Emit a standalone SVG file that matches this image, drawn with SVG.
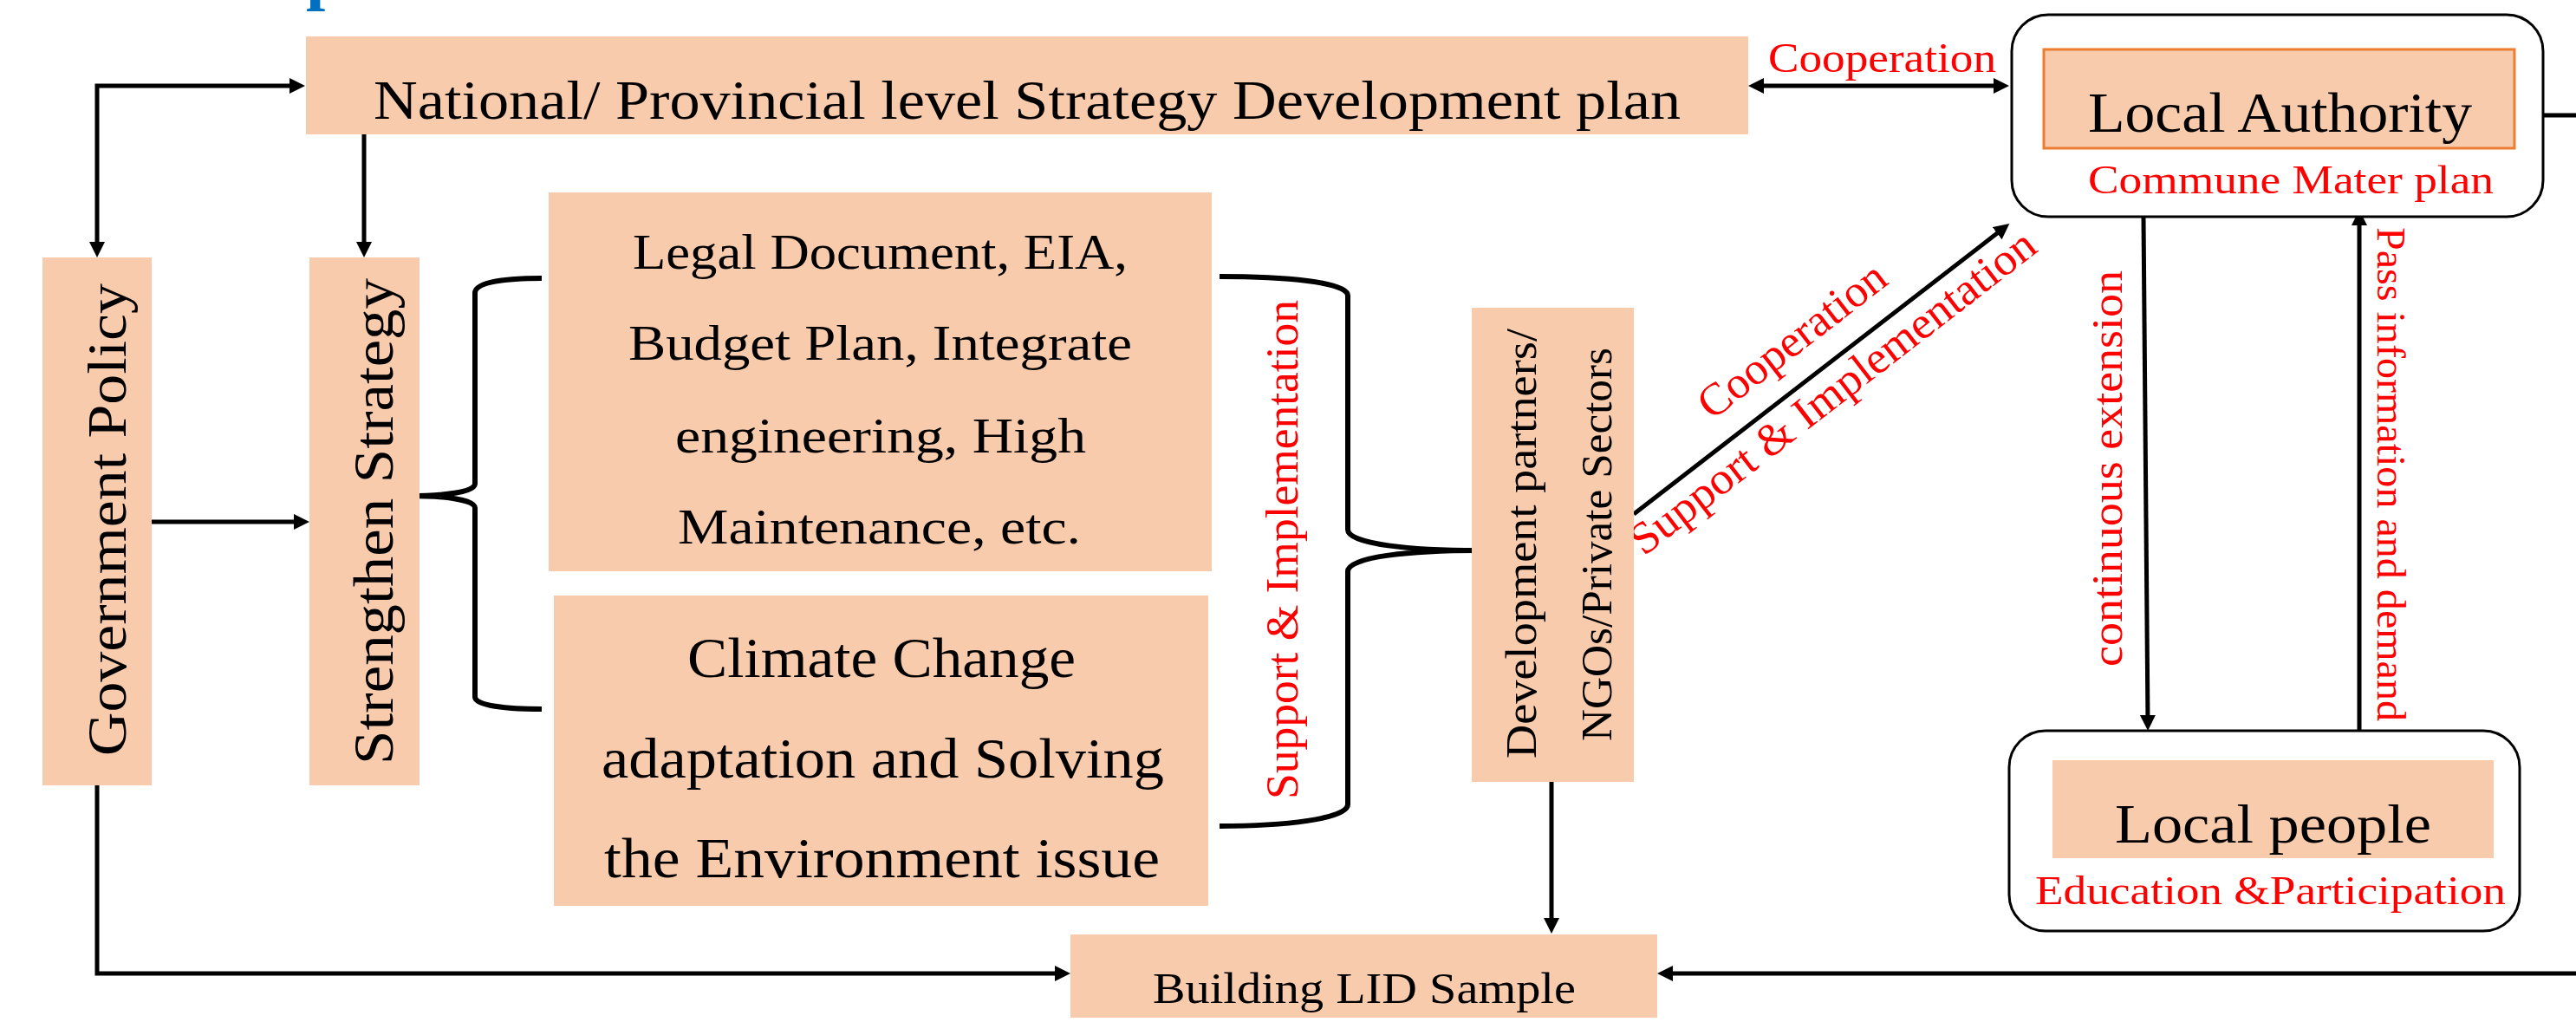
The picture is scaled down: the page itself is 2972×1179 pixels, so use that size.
<svg xmlns="http://www.w3.org/2000/svg" width="2972" height="1179" viewBox="0 0 2972 1179">
<defs>
<style>
.box{fill:#F8CBAD;}
.t{font-family:"Liberation Serif","Times New Roman",serif;fill:#000;}
.r{font-family:"Liberation Serif","Times New Roman",serif;fill:#FF0000;}
.ln{stroke:#000;stroke-width:5;fill:none;}
.br{stroke:#000;stroke-width:6;fill:none;}
.rb{fill:#fff;stroke:#000;stroke-width:3;}
</style>
<marker id="ah" markerUnits="userSpaceOnUse" markerWidth="20" markerHeight="20" refX="10" refY="9" orient="auto-start-reverse">
<path d="M0,0 L18,9 L0,18 z" fill="#000"/>
</marker>
</defs>
<rect width="2972" height="1179" fill="#fff"/>

<text x="353" y="-4" font-family="Liberation Serif,serif" font-weight="bold" font-size="80" fill="#0070C0">p</text>

<g id="connectors">
<path class="ln" d="M112,289 L112,99 L344,99" marker-start="url(#ah)" marker-end="url(#ah)"/>
<path class="ln" d="M420,155 L420,289" marker-end="url(#ah)"/>
<path class="ln" d="M175,602 L349,602" marker-end="url(#ah)"/>
<path class="ln" d="M112,906 L112,1123 L1227,1123" marker-end="url(#ah)"/>
<path class="ln" d="M2025,99 L2310,99" marker-start="url(#ah)" marker-end="url(#ah)"/>
<path class="ln" d="M1885,593 L2312,263" marker-end="url(#ah)"/>
<path class="ln" d="M2473,250 L2478,835" marker-end="url(#ah)"/>
<path class="ln" d="M2722,843 L2722,250" marker-end="url(#ah)"/>
<path class="ln" stroke-width="4" d="M1790,902 L1790,1069" marker-end="url(#ah)"/>
<path class="ln" stroke-width="7" d="M2934,133 L2972,133"/>
<path class="ln" d="M2972,1123 L1920,1123" marker-end="url(#ah)"/>
<path class="br" d="M625,321 C585,321 548,325 548,338 L548,558 C548,568 510,572 471,572 C510,572 548,576 548,586 L548,804 C548,814 585,818 625,818"/>
<path class="br" d="M1407,319 C1480,319 1555,325 1555,341 L1555,611 C1555,628 1630,635 1705,635 C1630,635 1555,642 1555,659 L1555,928 C1555,945 1480,953 1407,953"/>
<text class="r" x="2040" y="83" font-size="48" textLength="263" lengthAdjust="spacingAndGlyphs">Cooperation</text>
<text class="r" transform="translate(1497,922) rotate(-90)" font-size="52" textLength="576" lengthAdjust="spacingAndGlyphs">Support &amp; Implementation</text>
<g transform="translate(1885,593) rotate(-37.73)">
<text class="r" x="137" y="-30" font-size="52" textLength="260" lengthAdjust="spacingAndGlyphs">Cooperation</text>
<text class="r" x="-21" y="46" font-size="52" textLength="577" lengthAdjust="spacingAndGlyphs">Support &amp; Implementation</text>
</g>
<text class="r" transform="translate(2448,769) rotate(-90)" font-size="50" textLength="457" lengthAdjust="spacingAndGlyphs">continuous extension</text>
<text class="r" transform="translate(2743,262) rotate(90)" font-size="47" textLength="570" lengthAdjust="spacingAndGlyphs">Pass information and demand</text>
</g>

<g id="national">
<rect class="box" x="353" y="42" width="1664" height="113"/>
<text class="t" x="431" y="137" font-size="64" textLength="1508" lengthAdjust="spacingAndGlyphs">National/ Provincial level Strategy Development plan</text>
</g>

<g id="government-policy">
<rect class="box" x="49" y="297" width="126" height="609"/>
<text class="t" transform="translate(145,872) rotate(-90)" font-size="63" textLength="545" lengthAdjust="spacingAndGlyphs">Government Policy</text>
</g>

<g id="strengthen-strategy">
<rect class="box" x="357" y="297" width="127" height="609"/>
<text class="t" transform="translate(453,882) rotate(-90)" font-size="65" textLength="561" lengthAdjust="spacingAndGlyphs">Strengthen Strategy</text>
</g>

<g id="legal">
<rect class="box" x="633" y="222" width="765" height="437"/>
<text class="t" x="730" y="310" font-size="58" textLength="571" lengthAdjust="spacingAndGlyphs">Legal Document, EIA,</text>
<text class="t" x="725" y="415" font-size="58" textLength="581" lengthAdjust="spacingAndGlyphs">Budget Plan, Integrate</text>
<text class="t" x="779" y="522" font-size="58" textLength="474" lengthAdjust="spacingAndGlyphs">engineering, High</text>
<text class="t" x="782" y="627" font-size="58" textLength="465" lengthAdjust="spacingAndGlyphs">Maintenance, etc.</text>
</g>

<g id="climate">
<rect class="box" x="639" y="687" width="755" height="358"/>
<text class="t" x="793" y="781" font-size="65" textLength="448" lengthAdjust="spacingAndGlyphs">Climate Change</text>
<text class="t" x="694" y="897" font-size="65" textLength="649" lengthAdjust="spacingAndGlyphs">adaptation and Solving</text>
<text class="t" x="697" y="1012" font-size="65" textLength="641" lengthAdjust="spacingAndGlyphs">the Environment issue</text>
</g>

<g id="development-partners">
<rect class="box" x="1698" y="355" width="187" height="547"/>
<text class="t" transform="translate(1772,875) rotate(-90)" font-size="50" textLength="496" lengthAdjust="spacingAndGlyphs">Development partners/</text>
<text class="t" transform="translate(1859,855) rotate(-90)" font-size="50" textLength="454" lengthAdjust="spacingAndGlyphs">NGOs/Private Sectors</text>
</g>

<g id="building-lid">
<rect class="box" x="1235" y="1078" width="677" height="96"/>
<text class="t" x="1330" y="1157" font-size="50" textLength="488" lengthAdjust="spacingAndGlyphs">Building LID Sample</text>
</g>

<g id="local-authority">
<rect class="rb" x="2321" y="17" width="613" height="233" rx="42" ry="42"/>
<rect x="2358" y="57" width="543" height="114" fill="#F8CBAD" stroke="#ED7D31" stroke-width="3"/>
<text class="t" x="2409" y="152" font-size="65" textLength="443" lengthAdjust="spacingAndGlyphs">Local Authority</text>
<text class="r" x="2409" y="223" font-size="46" textLength="468" lengthAdjust="spacingAndGlyphs">Commune Mater plan</text>
</g>

<g id="local-people">
<rect class="rb" x="2318" y="843" width="589" height="231" rx="42" ry="42"/>
<rect class="box" x="2368" y="877" width="509" height="113"/>
<text class="t" x="2440" y="972" font-size="63" textLength="365" lengthAdjust="spacingAndGlyphs">Local people</text>
<text class="r" x="2348" y="1043" font-size="46" textLength="543" lengthAdjust="spacingAndGlyphs">Education &amp;Participation</text>
</g>
</svg>
